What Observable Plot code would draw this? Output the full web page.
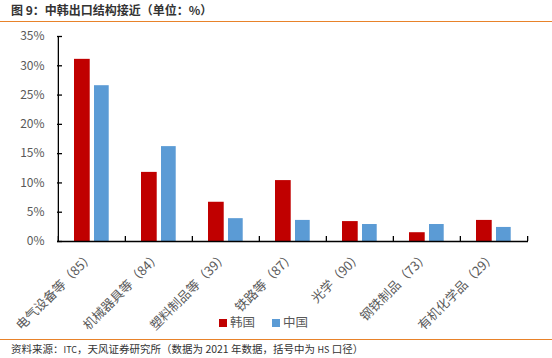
<!DOCTYPE html>
<html>
<head>
<meta charset="utf-8">
<script src="https://cdn.jsdelivr.net/npm/d3@7"></script>
<script src="https://cdn.jsdelivr.net/npm/@observablehq/plot@0.6"></script>
<style>
  html, body { margin: 0; padding: 0; background: #fff; }
  body { width: 552px; height: 358px; position: relative; overflow: hidden; font-family: "Noto Sans CJK SC", "Noto Sans", sans-serif; }
  #title { position: absolute; left: 0; top: 0; width: 552px; height: 21px; border-bottom: 1.5px solid #E8822A; }
  #title span { position: absolute; left: 11px; top: 3px; font-size: 12px; font-weight: bold; color: #333; line-height: 14px; }
  #chart { position: absolute; left: 0; top: 24px; }
  #legend { position: absolute; left: 0; top: 313px; width: 552px; height: 18px; font-size: 12.5px; color: #595959; }
  .item { position: absolute; top: 0; line-height: 18px; }
  .sw { display: inline-block; width: 8px; height: 8px; margin-right: 3px; vertical-align: 0px; }
  #footer { position: absolute; left: 0; top: 339px; width: 552px; border-top: 1.5px solid #E8822A; }
  #footer span { position: absolute; left: 11px; top: 2px; font-size: 10.5px; color: #333; white-space: nowrap; line-height: 14px; }
  #footer small { font-size: 9px; }
</style>
</head>
<body>
<div id="title"><span>图 9：中韩出口结构接近（单位：%）</span></div>
<div id="chart"></div>
<div id="legend"></div>
<div id="footer"><span>资料来源：<small>ITC</small>，天风证券研究所（数据为 2021 年数据，括号中为 <small>HS</small> 口径）</span></div>
<script>
const categories = ["电气设备等（85）", "机械器具等（84）", "塑料制品等（39）", "铁路等（87）", "光学（90）", "钢铁制品（73）", "有机化学品（29）"];
const seriesNames = ["韩国", "中国"];
const korea = [31.1, 11.8, 6.7, 10.4, 3.4, 1.5, 3.6];
const china = [26.6, 16.2, 3.9, 3.6, 2.9, 2.9, 2.4];
const yTicks = [0, 5, 10, 15, 20, 25, 30, 35];
const colors = ["#C00000", "#5B9BD5"];

const W = 552, mL = 57, mR = 24;
const step = (W - mL - mR) / categories.length;

const kData = categories.map((c, i) => ({cat: c, series: seriesNames[0], value: korea[i]}));
const cData = categories.map((c, i) => ({cat: c, series: seriesNames[1], value: china[i]}));

const plot = Plot.plot({
  width: W,
  height: 312,
  marginLeft: mL,
  marginRight: mR,
  marginTop: 12,
  marginBottom: 95,
  style: {fontFamily: "'Noto Sans CJK SC', 'Noto Sans', sans-serif", fontSize: "12px", color: "#595959", background: "transparent"},
  x: {domain: categories, padding: 0},
  y: {domain: [0, 35]},
  marks: [
    Plot.barY(kData, {x: "cat", y: "value", fill: colors[0], insetLeft: 16, insetRight: step - 32}),
    Plot.barY(cData, {x: "cat", y: "value", fill: colors[1], insetLeft: 36, insetRight: step - 51}),
    Plot.ruleY([0], {stroke: "#000", strokeWidth: 1.3}),
    Plot.ruleX([categories[0]], {dx: -step / 2, stroke: "#000", strokeWidth: 1.3}),
    Plot.ruleX(categories, {x: d => d, dx: -step / 2, y1: 0, y2: 0.85, stroke: "#000", strokeWidth: 1.3}),
    Plot.ruleX([categories[categories.length - 1]], {dx: step / 2, y1: 0, y2: 0.85, stroke: "#000", strokeWidth: 1.3}),
    Plot.axisY({ticks: yTicks, tickFormat: d => d + "%", tickSize: -5, tickPadding: 18, stroke: "#000", strokeWidth: 1.3, fill: "#595959", label: null}),
    Plot.axisX({tickSize: 0, tickRotate: -45, tickPadding: 13, label: null, fill: "#595959", fontSize: 12.8})
  ]
});
document.getElementById("chart").appendChild(plot);

const legend = document.getElementById("legend");
const lx = [219, 272];
seriesNames.forEach((s, i) => {
  const it = document.createElement("div");
  it.className = "item";
  it.style.left = lx[i] + "px";
  it.innerHTML = `<span class="sw" style="background:${colors[i]}"></span>${s}`;
  legend.appendChild(it);
});
</script>
</body>
</html>
